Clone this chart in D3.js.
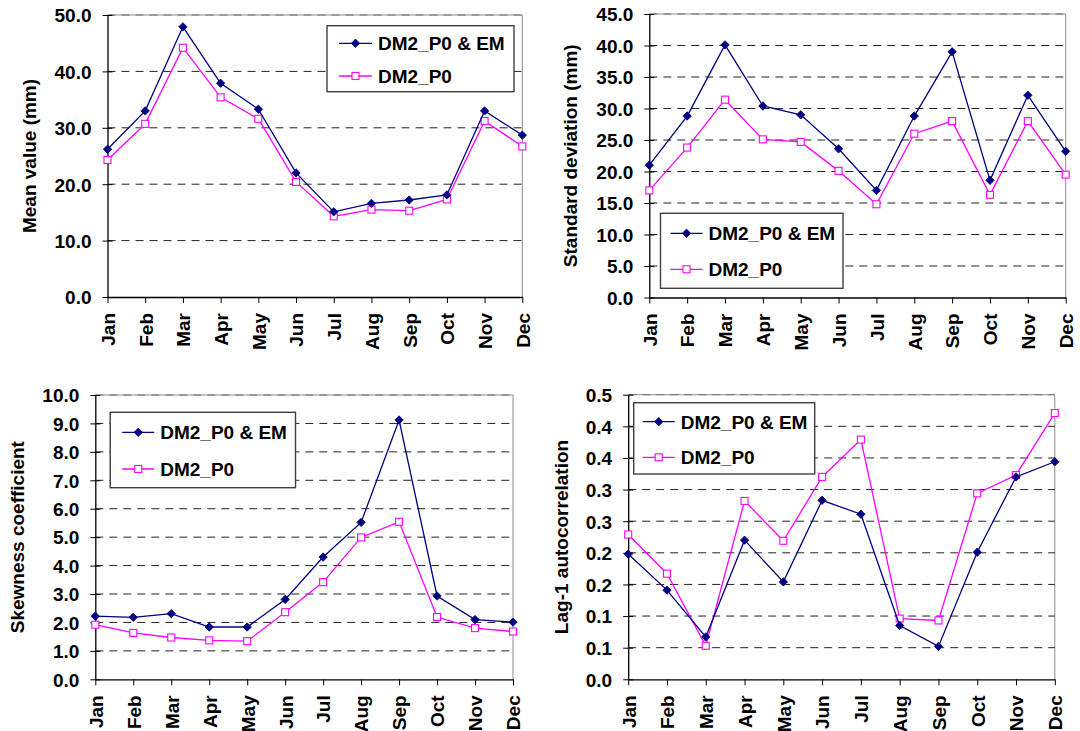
<!DOCTYPE html>
<html>
<head>
<meta charset="utf-8">
<script src="https://cdn.jsdelivr.net/npm/d3@7"></script>
<style>
  body { margin: 0; background: #fff; }
  svg text { font-family: "Liberation Sans", Arial, sans-serif; font-weight: bold; fill: #000; }
</style>
</head>
<body>
<div id="chart"></div>
<script>
// months on every x axis
const months = ["Jan","Feb","Mar","Apr","May","Jun","Jul","Aug","Sep","Oct","Nov","Dec"];
const seriesNames = ["DM2_P0 & EM", "DM2_P0"];

// mean value (mm)
const meanEM = [26.2, 33.0, 47.9, 37.9, 33.3, 22.0, 15.1, 16.6, 17.2, 18.1, 33.0, 28.7];
const meanP0 = [24.3, 30.7, 44.2, 35.4, 31.6, 20.4, 14.3, 15.5, 15.3, 17.3, 31.2, 26.7];
const meanTicks = [0, 10, 20, 30, 40, 50];

// standard deviation (mm)
const sdEM = [21.0, 28.8, 40.1, 30.4, 29.0, 23.6, 17.0, 28.8, 39.0, 18.6, 32.1, 23.2];
const sdP0 = [17.0, 23.8, 31.4, 25.1, 24.7, 20.1, 14.8, 26.0, 28.0, 16.3, 28.0, 19.5];
const sdTicks = [0, 5, 10, 15, 20, 25, 30, 35, 40, 45];

// skewness coefficient
const skewEM = [2.22, 2.18, 2.31, 1.84, 1.84, 2.81, 4.30, 5.52, 9.12, 2.93, 2.10, 2.01];
const skewP0 = [1.92, 1.63, 1.47, 1.37, 1.34, 2.36, 3.42, 4.99, 5.54, 2.19, 1.80, 1.68];
const skewTicks = [0, 1, 2, 3, 4, 5, 6, 7, 8, 9, 10];

// lag-1 autocorrelation (labels are rounded to one decimal in the original)
const lagEM = [0.198, 0.141, 0.067, 0.220, 0.154, 0.283, 0.261, 0.085, 0.052, 0.201, 0.320, 0.344];
const lagP0 = [0.229, 0.167, 0.053, 0.282, 0.219, 0.320, 0.379, 0.096, 0.093, 0.294, 0.323, 0.421];
const lagTicks = [0, 0.05, 0.10, 0.15, 0.20, 0.25, 0.30, 0.35, 0.40, 0.45];
const lagTickLabels = ["0.0","0.1","0.1","0.2","0.2","0.3","0.3","0.4","0.4","0.5"];

const fmt1 = d3.format(".1f");

const svg = d3.select("#chart").append("svg")
  .attr("width", 1080).attr("height", 731);
svg.append("rect").attr("width", 1080).attr("height", 731).attr("fill", "#fff");

const panels = [
  { em: meanEM, p0: meanP0, ticks: meanTicks, labels: meanTicks.map(fmt1), title: "Mean value (mm)",
    left: 107.5, right: 522.3, top: 15, bottom: 297, titleX: 29,
    legend: { x: 327, y: 25.7, w: 187, h: 66, lx: 12, lw: 33, tx: 51, e: [17.6, 50.3] } },
  { em: sdEM, p0: sdP0, ticks: sdTicks, labels: sdTicks.map(fmt1), title: "Standard deviation (mm)",
    left: 649.3, right: 1065.7, top: 14, bottom: 297.5, titleX: 570,
    legend: { x: 660.5, y: 213.3, w: 182.5, h: 75, lx: 10, lw: 32, tx: 48, e: [20, 56] } },
  { em: skewEM, p0: skewP0, ticks: skewTicks, labels: skewTicks.map(fmt1), title: "Skewness coefficient",
    left: 95.3, right: 513, top: 395, bottom: 679.3, titleX: 16.7,
    legend: { x: 110.2, y: 412.3, w: 185.3, h: 75.4, lx: 12, lw: 32, tx: 50, e: [20, 56.7] } },
  { em: lagEM, p0: lagP0, ticks: lagTicks, labels: lagTickLabels, title: "Lag-1 autocorrelation",
    left: 628.2, right: 1054.8, top: 394.7, bottom: 679.3, titleX: 560.7,
    legend: { x: 633.7, y: 402.7, w: 181, h: 71.3, lx: 9, lw: 32, tx: 47, e: [19, 54.6] } }
];

const navy = "#000080", pink = "#ff00ff";
const diamond = r => `M0,${-r}L${r},0L0,${r}L${-r},0Z`;

function drawMarker(g, kind, x, y) {
  if (kind === 0) {
    g.append("path").attr("d", diamond(4.2))
      .attr("transform", `translate(${x},${y})`)
      .attr("fill", navy).attr("stroke", navy).attr("stroke-width", 0.8);
  } else {
    g.append("rect").attr("x", x - 3.5).attr("y", y - 3.5)
      .attr("width", 7).attr("height", 7)
      .attr("fill", "#fff").attr("stroke", pink).attr("stroke-width", 1.1);
  }
}

panels.forEach(p => {
  const g = svg.append("g");
  const x = d3.scalePoint().domain(months).range([p.left, p.right]).padding(0);
  const y = d3.scaleLinear().domain([p.ticks[0], p.ticks[p.ticks.length - 1]]).range([p.bottom, p.top]);

  // plot border (top/right grey)
  g.append("path")
    .attr("d", `M${p.left},${p.top}H${p.right}V${p.bottom}`)
    .attr("fill", "none").attr("stroke", "#8c8c8c").attr("stroke-width", 1);

  // dashed gridlines
  g.append("g").selectAll("line")
    .data(p.ticks.slice(1))
    .join("line")
    .attr("x1", p.left).attr("x2", p.right)
    .attr("y1", d => y(d)).attr("y2", d => y(d))
    .attr("stroke", (d, i) => i === p.ticks.length - 2 ? "#6e6e6e" : "#222")
    .attr("stroke-width", 1)
    .attr("stroke-dasharray", "8,6");

  // y axis
  const ya = g.append("g").attr("transform", `translate(${p.left},0)`)
    .call(d3.axisLeft(y).tickValues(p.ticks).tickFormat((d, i) => p.labels[i])
      .tickSizeInner(5).tickSizeOuter(0).tickPadding(11));
  ya.select(".domain").attr("stroke", "#000").attr("stroke-width", 1.3);
  ya.selectAll(".tick line").attr("x1", 5).attr("stroke", "#000");
  ya.selectAll(".tick text").style("font-size", "19px").attr("dy", "0.36em");

  // x axis
  const xa = g.append("g").attr("transform", `translate(0,${p.bottom})`)
    .call(d3.axisBottom(x).tickSizeInner(6).tickSizeOuter(0));
  xa.select(".domain").attr("stroke", "#000").attr("stroke-width", 1.3);
  xa.selectAll(".tick line").attr("stroke", "#000");
  xa.selectAll(".tick text")
    .style("font-size", "19px")
    .attr("transform", "rotate(-90)")
    .attr("x", -16).attr("y", 0).attr("dy", "0.36em")
    .attr("text-anchor", "end");

  // y title
  g.append("text")
    .attr("transform", `translate(${p.titleX},${(p.top + p.bottom) / 2}) rotate(-90)`)
    .attr("text-anchor", "middle").attr("dy", "0.36em")
    .style("font-size", "19px")
    .text(p.title);

  // lines
  const line = d3.line().x((d, i) => x(months[i])).y(d => y(d));
  [[p.p0, pink, 1], [p.em, navy, 0]].forEach(([vals, col, kind]) => {
    g.append("path").attr("d", line(vals))
      .attr("fill", "none").attr("stroke", col).attr("stroke-width", 1.3);
    vals.forEach((v, i) => drawMarker(g, kind, x(months[i]), y(v)));
  });

  // legend
  const L = p.legend;
  const lg = g.append("g").attr("transform", `translate(${L.x},${L.y})`);
  lg.append("rect").attr("width", L.w).attr("height", L.h)
    .attr("fill", "#fff").attr("stroke", "#404040").attr("stroke-width", 1.4);
  seriesNames.forEach((name, k) => {
    const col = k === 0 ? navy : pink;
    lg.append("line").attr("x1", L.lx).attr("x2", L.lx + L.lw)
      .attr("y1", L.e[k]).attr("y2", L.e[k])
      .attr("stroke", col).attr("stroke-width", 1.3);
    drawMarker(lg, k, L.lx + L.lw / 2, L.e[k]);
    lg.append("text").attr("x", L.tx).attr("y", L.e[k]).attr("dy", "0.36em")
      .style("font-size", "19px").text(name);
  });
});
</script>
</body>
</html>
